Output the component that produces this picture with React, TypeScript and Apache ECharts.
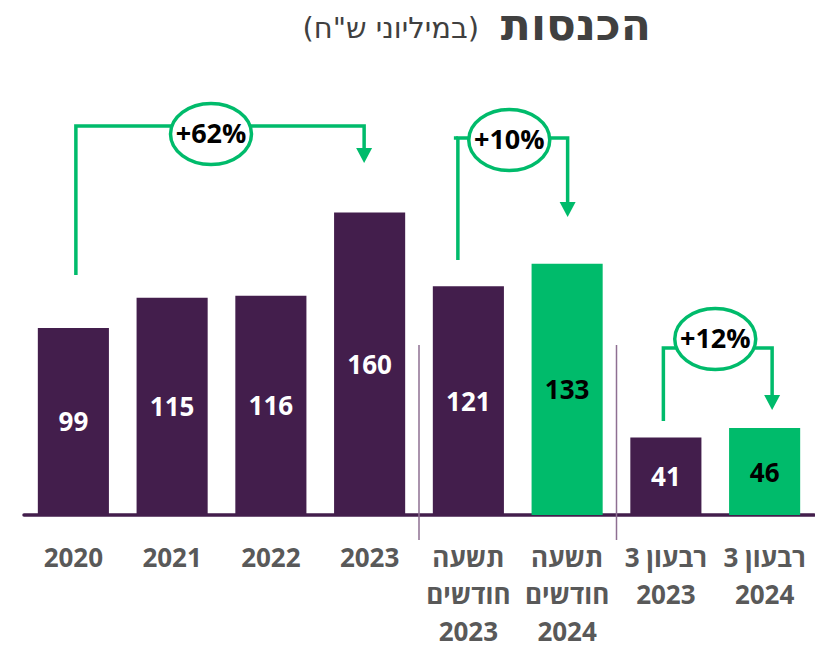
import React, { useEffect, useRef } from "react";
import * as echarts from "echarts";

const categories = [
  "2020",
  "2021",
  "2022",
  "2023",
  "תשעה\nחודשים\n2023",
  "תשעה\nחודשים\n2024",
  "רבעון 3\n2023",
  "רבעון 3\n2024",
];
const revenues = [99, 115, 116, 160, 121, 133, 41, 46];
const highlighted = [false, false, false, false, false, true, false, true];
const changes = [
  { from: 0, to: 3, label: "+62%" },
  { from: 4, to: 5, label: "+10%" },
  { from: 6, to: 7, label: "+12%" },
];
const separatorsAfter = [3, 5];
const titleMain = "הכנסות";
const titleSub = '(במיליוני ש"ח)';

// layout / styling of the change annotations (pixels)
const bracketLayout = [
  { lineY: 126, leftBottom: 275, tipY: 163, cy: 134, leftDx: 2.5, rightDx: -5.5, cxDx: -9, stub: 0 },
  { lineY: 138, leftBottom: 260, tipY: 217, cy: 140, leftDx: -10.5, rightDx: 0.5, cxDx: -3.5, stub: 4 },
  { lineY: 348, leftBottom: 421, tipY: 410, cy: 339, leftDx: -2.5, rightDx: 7.5, cxDx: -2.5, stub: 0 },
];

const PURPLE = "#431E4C";
const GREEN = "#00BB6B";
const GRAY = "#595959";
const FONT = "'Open Sans', 'Liberation Sans', 'DejaVu Sans', sans-serif";
const TITLE_FONT = "'DejaVu Sans', sans-serif";

export default function App() {
  const ref = useRef<HTMLDivElement>(null);

  useEffect(() => {
    document.body.style.margin = "0";
    const chart = echarts.init(ref.current as HTMLDivElement, null, { renderer: "svg" });
    chart.setOption({
      animation: false,
      grid: { left: 24, right: 1, top: 137, bottom: 130 },
      xAxis: {
        type: "category",
        data: categories,
        axisLine: { lineStyle: { color: PURPLE, width: 3.5 } },
        axisTick: { show: false },
        axisLabel: {
          interval: 0,
          margin: 23,
          fontSize: 26,
          fontWeight: "bold",
          color: GRAY,
          lineHeight: 37,
          fontFamily: FONT,
        },
      },
      yAxis: { type: "value", min: 0, max: 200, show: false },
      series: [
        {
          type: "bar",
          barWidth: "72%",
          data: revenues.map((v, i) => ({
            value: v,
            itemStyle: { color: highlighted[i] ? GREEN : PURPLE },
            label: { color: highlighted[i] ? "#000" : "#fff" },
          })),
          label: {
            show: true,
            position: "inside",
            fontSize: 26,
            fontWeight: "bold",
            fontFamily: FONT,
          },
        },
      ],
    });

    const px = (i: number, v: number) =>
      chart.convertToPixel({ seriesIndex: 0 }, [i, v]) as number[];

    const graphics: any[] = [];

    // title
    graphics.push({
      type: "text",
      x: 651,
      y: 24,
      style: {
        text: titleMain,
        fontSize: 44,
        fontWeight: "bold",
        fill: "#404040",
        fontFamily: TITLE_FONT,
        textAlign: "right",
        textVerticalAlign: "middle",
      },
    });
    graphics.push({
      type: "text",
      x: 479,
      y: 28,
      style: {
        text: titleSub,
        fontSize: 29,
        fill: "#404040",
        fontFamily: TITLE_FONT,
        textAlign: "right",
        textVerticalAlign: "middle",
      },
    });

    // separators
    separatorsAfter.forEach((i) => {
      const x = (px(i, 0)[0] + px(i + 1, 0)[0]) / 2;
      graphics.push({
        type: "line",
        shape: { x1: x, y1: 345, x2: x, y2: 540 },
        style: { stroke: "#8E6F92", lineWidth: 1.5 },
        z: 1,
      });
    });

    // change brackets
    changes.forEach((c, k) => {
      const L = bracketLayout[k];
      const xl = px(c.from, 0)[0] + L.leftDx;
      const xr = px(c.to, 0)[0] + L.rightDx;
      const cx = (xl + xr) / 2 + L.cxDx;
      const lineStyle = { stroke: GREEN, lineWidth: 3.5 };
      graphics.push({
        type: "polyline",
        shape: {
          points: [
            [xl, L.leftBottom],
            [xl, L.lineY],
            [xr, L.lineY],
            [xr, L.tipY - 14],
          ],
        },
        style: { ...lineStyle, fill: null },
        z: 10,
      });
      if (L.stub) {
        graphics.push({
          type: "line",
          shape: { x1: xl - L.stub, y1: L.lineY, x2: xl, y2: L.lineY },
          style: lineStyle,
          z: 10,
        });
      }
      graphics.push({
        type: "polygon",
        shape: {
          points: [
            [xr - 8, L.tipY - 15],
            [xr + 8, L.tipY - 15],
            [xr, L.tipY],
          ],
        },
        style: { fill: GREEN },
        z: 10,
      });
      graphics.push({
        type: "ellipse",
        shape: { cx, cy: L.cy, rx: 40.5, ry: 30.5 },
        style: { fill: "#fff", stroke: GREEN, lineWidth: 3.5 },
        z: 11,
      });
      graphics.push({
        type: "text",
        x: cx,
        y: L.cy - 2,
        style: {
          text: c.label,
          fontSize: 27,
          fontWeight: "bold",
          fill: "#000",
          fontFamily: FONT,
          textAlign: "center",
          textVerticalAlign: "middle",
        },
        z: 12,
      });
    });

    chart.setOption({ graphic: graphics });

    return () => chart.dispose();
  }, []);

  return <div ref={ref} style={{ width: 815, height: 649 }} />;
}
